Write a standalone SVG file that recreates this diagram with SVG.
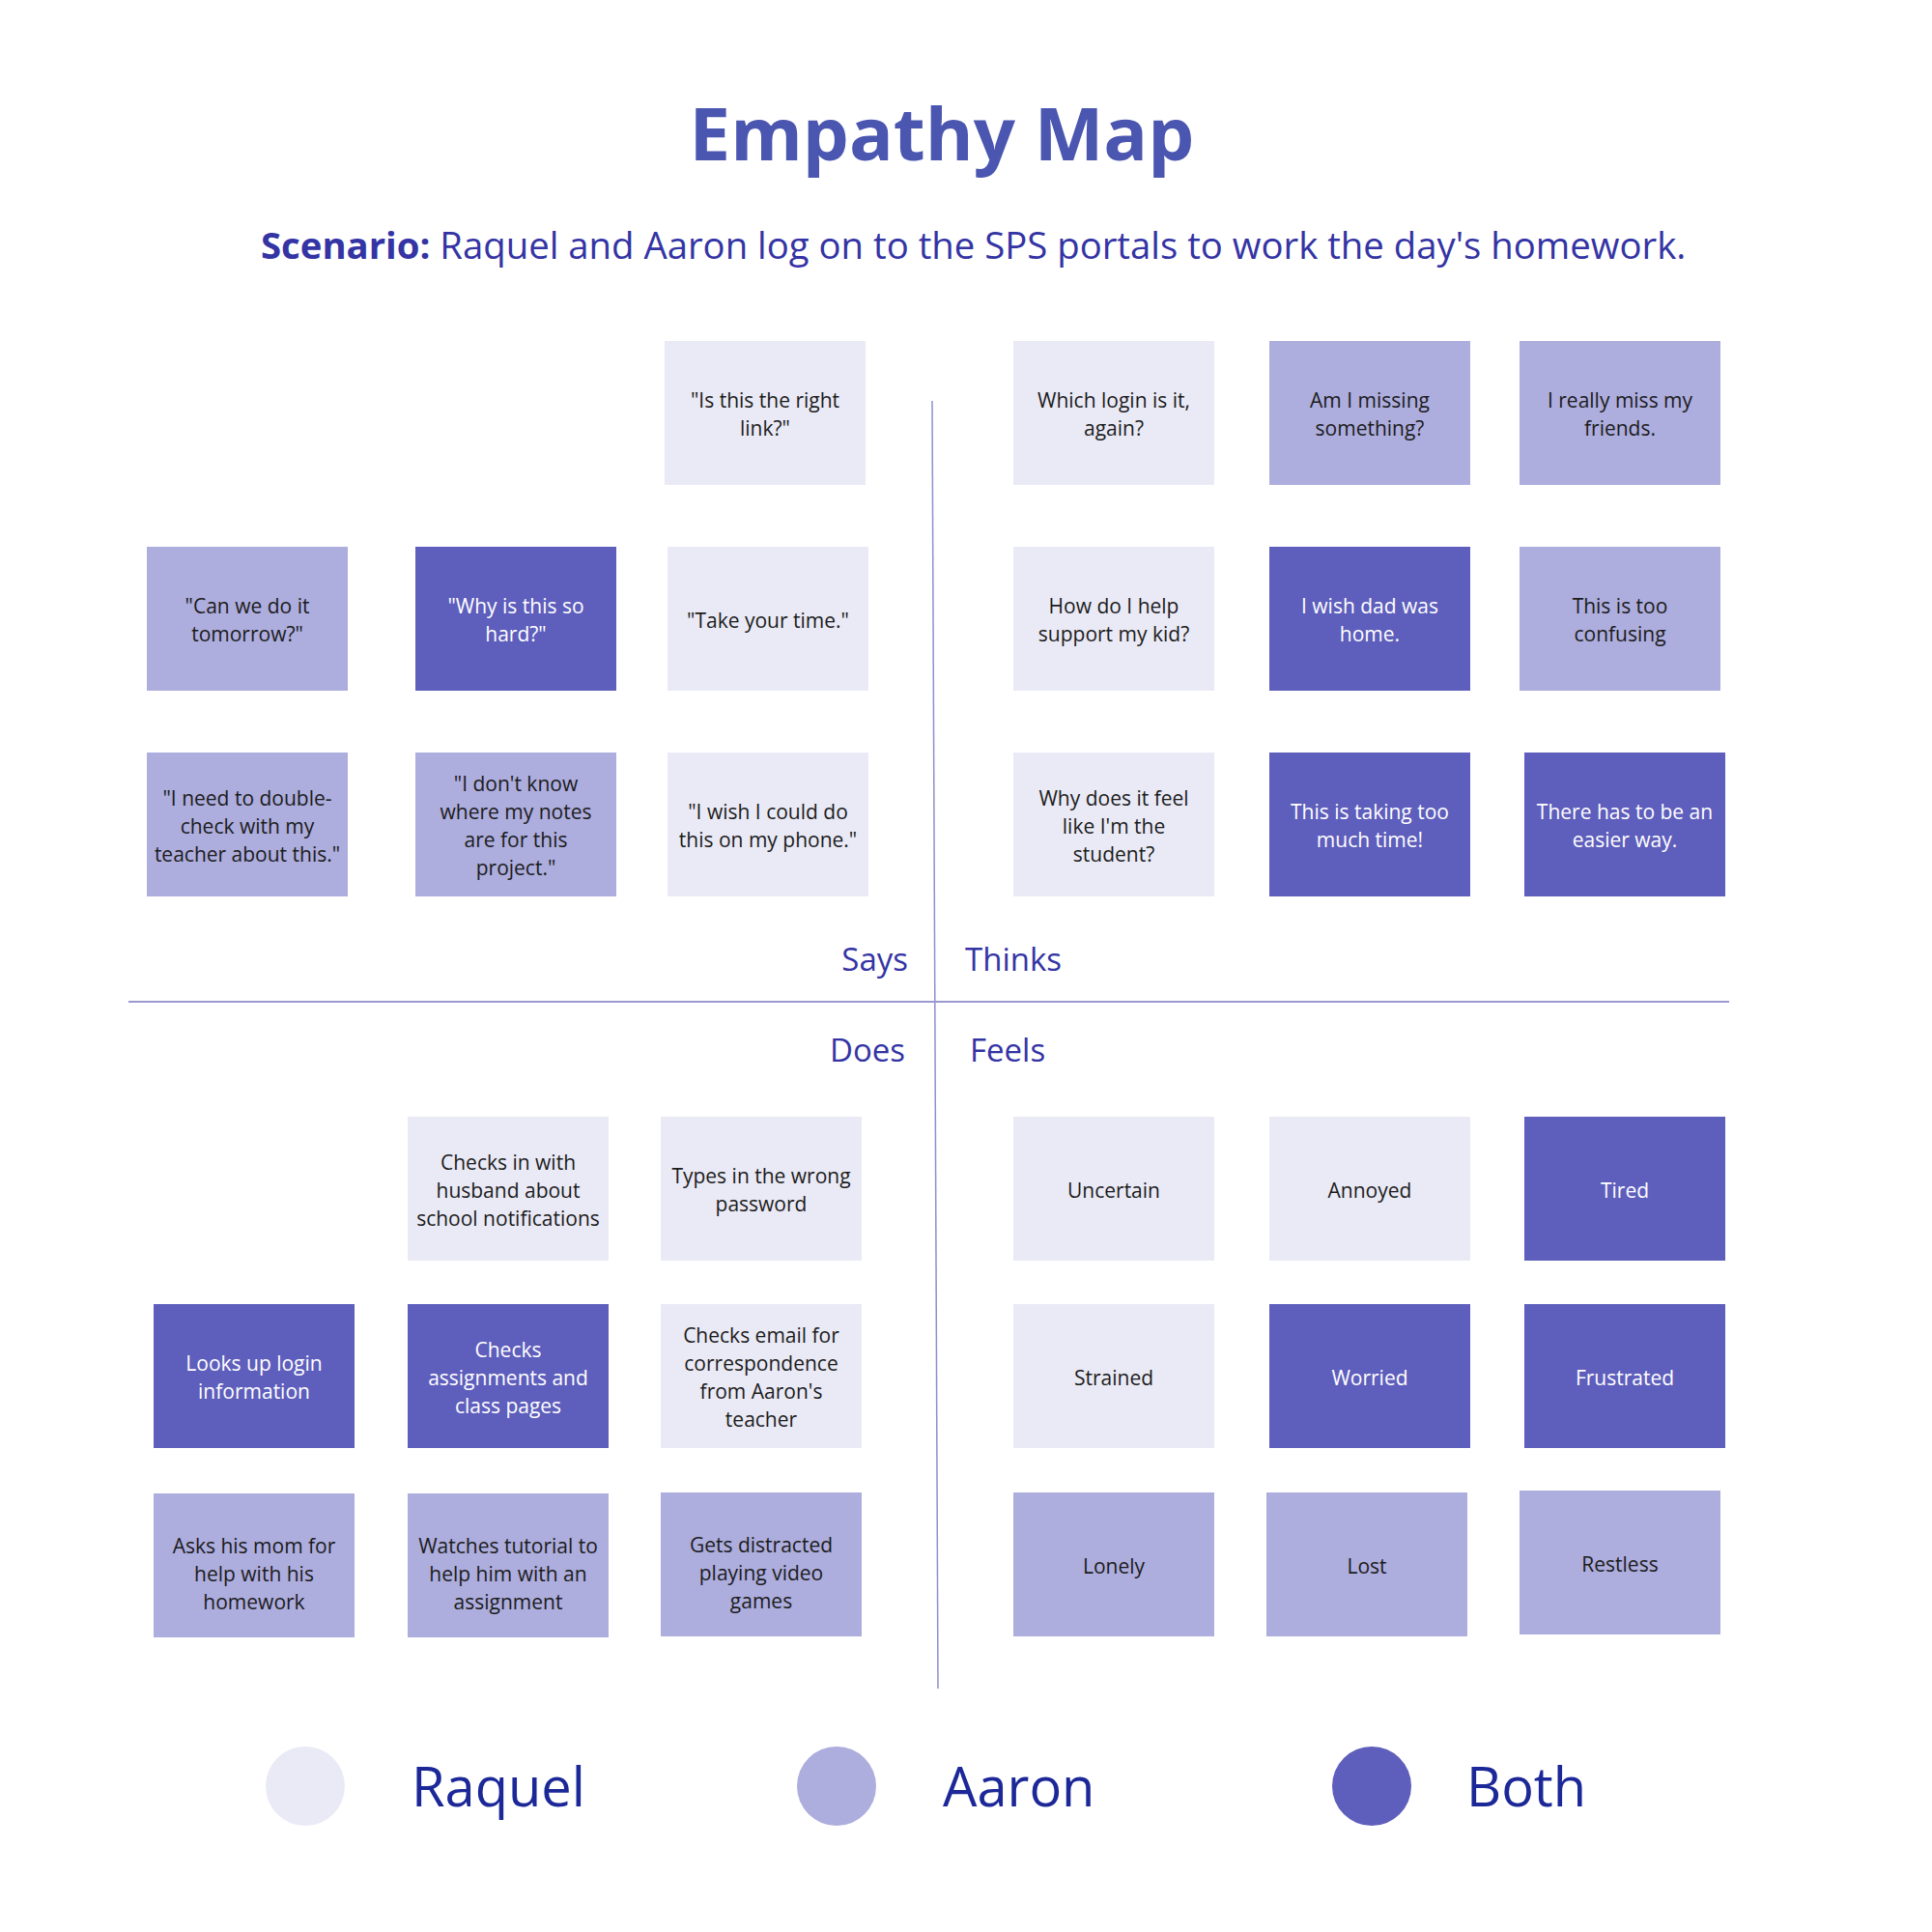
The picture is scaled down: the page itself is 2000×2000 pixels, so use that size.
<svg xmlns="http://www.w3.org/2000/svg" width="2000" height="2000" viewBox="0 0 2000 2000">
<style>
text{font-family:"Open Sans","Liberation Sans",sans-serif}
.n rect{width:208px;height:149px}
.r rect{fill:#eaeaf6}.a rect{fill:#adadde}.b rect{fill:#5e5ebc}
.n text{font-size:21px;text-anchor:middle;fill:#1c1c1c}
.n text{transform:translateY(1.5px)}
.b text{fill:#ffffff}
.q{font-size:33px;fill:#3434a4}
.lg{font-size:56px;fill:#1c2898}
</style>
<rect width="2000" height="2000" fill="#ffffff"/>
<g id="title"><text x="975" y="166" text-anchor="middle" font-size="76" font-weight="700" fill="#4a56b0">Empathy Map</text></g>
<g id="scenario"><text x="270" y="268" font-size="38.3" fill="#3434a4"><tspan font-weight="700">Scenario:</tspan> Raquel and Aaron log on to the SPS portals to work the day's homework.</text></g>
<g id="connectors">
<line x1="965" y1="415" x2="971" y2="1748" stroke="#8f8fd0" stroke-width="1.5"/>
<line x1="133" y1="1037" x2="1790" y2="1037" stroke="#9a9ad0" stroke-width="2"/>
</g>
<g id="labels">
<text class="q" x="940" y="1005" text-anchor="end">Says</text>
<text class="q" x="999" y="1005">Thinks</text>
<text class="q" x="937" y="1099" text-anchor="end">Does</text>
<text class="q" x="1004" y="1099">Feels</text>
</g>
<!-- Says -->
<g id="s1" class="n r"><rect x="688" y="353"/><text x="792"><tspan x="792" y="420.5">"Is this the right</tspan><tspan x="792" y="449.5">link?"</tspan></text></g>
<g id="s2" class="n a"><rect x="152" y="566"/><text><tspan x="256" y="633.5">"Can we do it</tspan><tspan x="256" y="662.5">tomorrow?"</tspan></text></g>
<g id="s3" class="n b"><rect x="430" y="566"/><text><tspan x="534" y="633.5">"Why is this so</tspan><tspan x="534" y="662.5">hard?"</tspan></text></g>
<g id="s4" class="n r"><rect x="691" y="566"/><text><tspan x="795" y="648">"Take your time."</tspan></text></g>
<g id="s5" class="n a"><rect x="152" y="779"/><text><tspan x="256" y="832">"I need to double-</tspan><tspan x="256" y="861">check with my</tspan><tspan x="256" y="890">teacher about this."</tspan></text></g>
<g id="s6" class="n a"><rect x="430" y="779"/><text><tspan x="534" y="817.5">"I don't know</tspan><tspan x="534" y="846.5">where my notes</tspan><tspan x="534" y="875.5">are for this</tspan><tspan x="534" y="904.5">project."</tspan></text></g>
<g id="s7" class="n r"><rect x="691" y="779"/><text><tspan x="795" y="846.5">"I wish I could do</tspan><tspan x="795" y="875.5">this on my phone."</tspan></text></g>
<!-- Thinks -->
<g id="t1" class="n r"><rect x="1049" y="353"/><text><tspan x="1153" y="420.5">Which login is it,</tspan><tspan x="1153" y="449.5">again?</tspan></text></g>
<g id="t2" class="n a"><rect x="1314" y="353"/><text><tspan x="1418" y="420.5">Am I missing</tspan><tspan x="1418" y="449.5">something?</tspan></text></g>
<g id="t3" class="n a"><rect x="1573" y="353"/><text><tspan x="1677" y="420.5">I really miss my</tspan><tspan x="1677" y="449.5">friends.</tspan></text></g>
<g id="t4" class="n r"><rect x="1049" y="566"/><text><tspan x="1153" y="633.5">How do I help</tspan><tspan x="1153" y="662.5">support my kid?</tspan></text></g>
<g id="t5" class="n b"><rect x="1314" y="566"/><text><tspan x="1418" y="633.5">I wish dad was</tspan><tspan x="1418" y="662.5">home.</tspan></text></g>
<g id="t6" class="n a"><rect x="1573" y="566"/><text><tspan x="1677" y="633.5">This is too</tspan><tspan x="1677" y="662.5">confusing</tspan></text></g>
<g id="t7" class="n r"><rect x="1049" y="779"/><text><tspan x="1153" y="832">Why does it feel</tspan><tspan x="1153" y="861">like I'm the</tspan><tspan x="1153" y="890">student?</tspan></text></g>
<g id="t8" class="n b"><rect x="1314" y="779"/><text><tspan x="1418" y="846.5">This is taking too</tspan><tspan x="1418" y="875.5">much time!</tspan></text></g>
<g id="t9" class="n b"><rect x="1578" y="779"/><text><tspan x="1682" y="846.5">There has to be an</tspan><tspan x="1682" y="875.5">easier way.</tspan></text></g>
<!-- Does -->
<g id="d1" class="n r"><rect x="422" y="1156"/><text><tspan x="526" y="1209">Checks in with</tspan><tspan x="526" y="1238">husband about</tspan><tspan x="526" y="1267">school notifications</tspan></text></g>
<g id="d2" class="n r"><rect x="684" y="1156"/><text><tspan x="788" y="1223.5">Types in the wrong</tspan><tspan x="788" y="1252.5">password</tspan></text></g>
<g id="d3" class="n b"><rect x="159" y="1350"/><text><tspan x="263" y="1417.5">Looks up login</tspan><tspan x="263" y="1446.5">information</tspan></text></g>
<g id="d4" class="n b"><rect x="422" y="1350"/><text><tspan x="526" y="1403">Checks</tspan><tspan x="526" y="1432">assignments and</tspan><tspan x="526" y="1461">class pages</tspan></text></g>
<g id="d5" class="n r"><rect x="684" y="1350"/><text><tspan x="788" y="1388.5">Checks email for</tspan><tspan x="788" y="1417.5">correspondence</tspan><tspan x="788" y="1446.5">from Aaron's</tspan><tspan x="788" y="1475.5">teacher</tspan></text></g>
<g id="d6" class="n a"><rect x="159" y="1546"/><text><tspan x="263" y="1606">Asks his mom for</tspan><tspan x="263" y="1635">help with his</tspan><tspan x="263" y="1664">homework</tspan></text></g>
<g id="d7" class="n a"><rect x="422" y="1546"/><text><tspan x="526" y="1606">Watches tutorial to</tspan><tspan x="526" y="1635">help him with an</tspan><tspan x="526" y="1664">assignment</tspan></text></g>
<g id="d8" class="n a"><rect x="684" y="1545"/><text><tspan x="788" y="1605">Gets distracted</tspan><tspan x="788" y="1634">playing video</tspan><tspan x="788" y="1663">games</tspan></text></g>
<!-- Feels -->
<g id="f1" class="n r"><rect x="1049" y="1156"/><text x="1153" y="1238">Uncertain</text></g>
<g id="f2" class="n r"><rect x="1314" y="1156"/><text x="1418" y="1238">Annoyed</text></g>
<g id="f3" class="n b"><rect x="1578" y="1156"/><text x="1682" y="1238">Tired</text></g>
<g id="f4" class="n r"><rect x="1049" y="1350"/><text x="1153" y="1432">Strained</text></g>
<g id="f5" class="n b"><rect x="1314" y="1350"/><text x="1418" y="1432">Worried</text></g>
<g id="f6" class="n b"><rect x="1578" y="1350"/><text x="1682" y="1432">Frustrated</text></g>
<g id="f7" class="n a"><rect x="1049" y="1545"/><text x="1153" y="1627">Lonely</text></g>
<g id="f8" class="n a"><rect x="1311" y="1545"/><text x="1415" y="1627">Lost</text></g>
<g id="f9" class="n a"><rect x="1573" y="1543"/><text x="1677" y="1625">Restless</text></g>
<!-- Legend -->
<g id="legend-raquel"><circle cx="316" cy="1849" r="41" fill="#eaeaf6"/><text class="lg" x="426" y="1870">Raquel</text></g>
<g id="legend-aaron"><circle cx="866" cy="1849" r="41" fill="#adadde"/><text class="lg" x="976" y="1870">Aaron</text></g>
<g id="legend-both"><circle cx="1420" cy="1849" r="41" fill="#5e5ebc"/><text class="lg" x="1518" y="1870">Both</text></g>
</svg>
